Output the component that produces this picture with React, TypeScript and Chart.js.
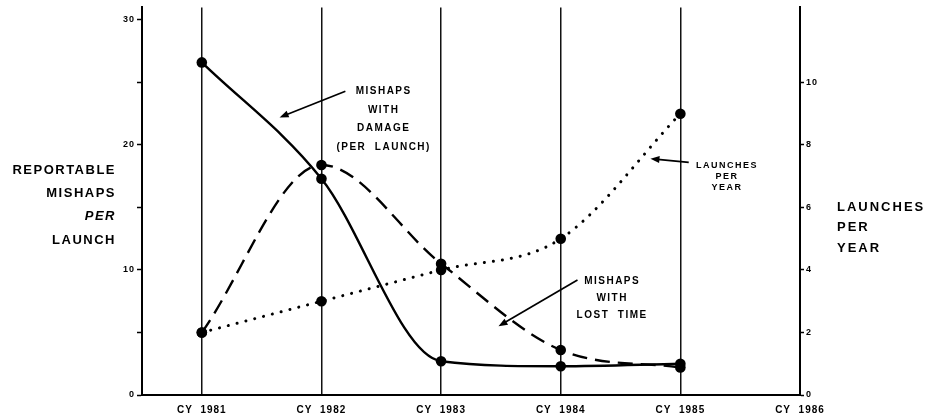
import { useEffect, useRef } from 'react';
import { Chart, registerables } from 'chart.js';

Chart.register(...registerables);

// ---- data ----
const years = [1981, 1982, 1983, 1984, 1985];
const damagePerLaunch = [26.6, 17.3, 2.7, 2.3, 2.5];
const lostTimePerLaunch = [5.0, 18.4, 10.5, 3.6, 2.2];
const launchesPerYear = [2, 3, 4, 5, 9];
const xTickYears = [1981, 1982, 1983, 1984, 1985, 1986];
const leftTicks = [0, 5, 10, 15, 20, 25, 30];
const rightTicks = [0, 2, 4, 6, 8, 10];
const leftTitle = ['REPORTABLE', 'MISHAPS', 'PER', 'LAUNCH'];
const rightTitle = ['LAUNCHES', 'PER', 'YEAR'];

// annotation labels (data coordinates on x / left y scale)
const annotations = [
  { lines: ['MISHAPS', 'WITH', 'DAMAGE', '(PER  LAUNCH)'], x: 1982.52, y: 24.3, step: 18.7, size: 10, from: [1982.2, 24.3], to: [1981.65, 22.2] },
  { lines: ['MISHAPS', 'WITH', 'LOST  TIME'], x: 1984.43, y: 9.1, step: 17, size: 10, from: [1984.14, 9.2], to: [1983.48, 5.5] },
  { lines: ['LAUNCHES', 'PER', 'YEAR'], x: 1985.39, y: 18.36, step: 11, size: 9, from: [1985.07, 18.6], to: [1984.75, 18.9] },
];

const FONT = '"Liberation Sans", Arial, Helvetica, sans-serif';

function drawArrow(ctx: CanvasRenderingContext2D, x1: number, y1: number, x2: number, y2: number) {
  const ang = Math.atan2(y2 - y1, x2 - x1);
  const hl = 9, hw = 3.5;
  ctx.beginPath();
  ctx.moveTo(x1, y1);
  ctx.lineTo(x2 - Math.cos(ang) * hl * 0.8, y2 - Math.sin(ang) * hl * 0.8);
  ctx.lineWidth = 1.7;
  ctx.stroke();
  ctx.beginPath();
  ctx.moveTo(x2, y2);
  ctx.lineTo(x2 - Math.cos(ang) * hl - Math.sin(ang) * hw, y2 - Math.sin(ang) * hl + Math.cos(ang) * hw);
  ctx.lineTo(x2 - Math.cos(ang) * hl + Math.sin(ang) * hw, y2 - Math.sin(ang) * hl - Math.cos(ang) * hw);
  ctx.closePath();
  ctx.fill();
}

const overlayPlugin = {
  id: 'overlay',
  beforeDraw(chart: any) {
    (chart.ctx as any).letterSpacing = '1px';
  },
  afterDraw(chart: any) {
    const { ctx, chartArea, scales } = chart;
    const sx = scales.x, sy = scales.y;
    ctx.save();
    ctx.fillStyle = '#000';
    ctx.strokeStyle = '#000';
    ctx.textBaseline = 'middle';

    // left axis title
    ctx.letterSpacing = '1.5px';
    ctx.textAlign = 'right';
    const midY = (chartArea.top + chartArea.bottom) / 2;
    leftTitle.forEach((t, i) => {
      ctx.font = (t === 'PER' ? 'italic bold 13px ' : 'bold 13px ') + FONT;
      ctx.fillText(t, chartArea.left - 26, midY - 31 + i * 23.3);
    });

    // right axis title
    ctx.textAlign = 'left';
    ctx.letterSpacing = '2px';
    ctx.font = 'bold 13px ' + FONT;
    rightTitle.forEach((t, i) => {
      ctx.fillText(t, chartArea.right + 37, midY + 6 + i * 20.5);
    });

    // annotations
    ctx.textAlign = 'center';
    ctx.letterSpacing = '1.5px';
    annotations.forEach((a) => {
      ctx.font = 'bold ' + a.size + 'px ' + FONT;
      const px = sx.getPixelForValue(a.x);
      const py = sy.getPixelForValue(a.y);
      a.lines.forEach((l, i) => ctx.fillText(l, px, py + i * a.step));
      drawArrow(ctx,
        sx.getPixelForValue(a.from[0]), sy.getPixelForValue(a.from[1]),
        sx.getPixelForValue(a.to[0]), sy.getPixelForValue(a.to[1]));
    });
    ctx.restore();
  },
};

export default function App() {
  const ref = useRef<HTMLCanvasElement | null>(null);
  useEffect(() => {
    document.body.style.margin = '0';
    const canvas = ref.current!;
    const pts = (vals: number[]) => years.map((y, i) => ({ x: y, y: vals[i] }));
    const chart = new Chart(canvas, {
      type: 'line',
      data: {
        datasets: [
          {
            label: 'Mishaps with damage (per launch)',
            data: pts(damagePerLaunch),
            yAxisID: 'y',
            borderColor: '#000',
            backgroundColor: '#000',
            borderWidth: 2.4,
            pointRadius: 5.3,
            pointBorderWidth: 0,
            cubicInterpolationMode: 'monotone',
          },
          {
            label: 'Mishaps with lost time',
            data: pts(lostTimePerLaunch),
            yAxisID: 'y',
            borderColor: '#000',
            backgroundColor: '#000',
            borderWidth: 2.4,
            borderDash: [15, 8],
            pointRadius: 5.3,
            pointBorderWidth: 0,
            cubicInterpolationMode: 'monotone',
          },
          {
            label: 'Launches per year',
            data: pts(launchesPerYear),
            yAxisID: 'y1',
            borderColor: '#000',
            backgroundColor: '#000',
            borderWidth: 3,
            borderDash: [0.1, 9],
            borderCapStyle: 'round',
            pointRadius: 5.3,
            pointBorderWidth: 0,
            cubicInterpolationMode: 'monotone',
          },
        ],
      },
      options: {
        responsive: false,
        animation: false,
        devicePixelRatio: 1,
        layout: { padding: { top: 7, left: 0, right: 0, bottom: 0 } },
        plugins: { legend: { display: false }, tooltip: { enabled: false } },
        scales: {
          x: {
            type: 'linear',
            position: 'bottom',
            min: 1980.5,
            max: 1986,
            afterBuildTicks: (axis: any) => { axis.ticks = xTickYears.map((v) => ({ value: v })); },
            afterFit: (s: any) => { s.height = 25; },
            ticks: {
              color: '#000',
              font: { family: FONT, size: 10, weight: 'bold' },
              padding: 9,
              maxRotation: 0,
              autoSkip: false,
              callback: (v: any) => 'CY  ' + v,
            },
            grid: {
              drawTicks: false,
              color: (c: any) => (c.tick && c.tick.value === 1986 ? 'rgba(0,0,0,0)' : '#111'),
              lineWidth: 1.5,
            },
            border: { display: true, color: '#000', width: 2 },
          },
          y: {
            type: 'linear',
            position: 'left',
            min: 0,
            max: 31,
            afterBuildTicks: (axis: any) => { axis.ticks = leftTicks.map((v) => ({ value: v })); },
            afterFit: (s: any) => { s.width = 142; },
            ticks: {
              color: '#000',
              font: { family: FONT, size: 9, weight: 'bold' },
              padding: 2,
              callback: (v: any) => (v % 10 === 0 ? String(v) : ''),
            },
            grid: {
              drawOnChartArea: false,
              tickLength: 5,
              tickColor: '#000',
              tickWidth: 1.5,
            },
            border: { display: true, color: '#000', width: 2 },
          },
          y1: {
            type: 'linear',
            position: 'right',
            min: 0,
            max: 12.4,
            afterBuildTicks: (axis: any) => { axis.ticks = rightTicks.map((v) => ({ value: v })); },
            afterFit: (s: any) => { s.width = 141; },
            ticks: {
              color: '#000',
              font: { family: FONT, size: 9, weight: 'bold' },
              padding: 2,
              callback: (v: any) => String(v),
            },
            grid: {
              drawOnChartArea: false,
              tickLength: 4,
              tickColor: '#000',
              tickWidth: 1.5,
            },
            border: { display: true, color: '#000', width: 2 },
          },
        },
      },
      plugins: [overlayPlugin],
    } as any);
    return () => chart.destroy();
  }, []);
  return (
    <div style={{ position: 'absolute', left: 0, top: 0, width: 941, height: 420, background: '#fff' }}>
      <canvas ref={ref} width={941} height={420} />
    </div>
  );
}
